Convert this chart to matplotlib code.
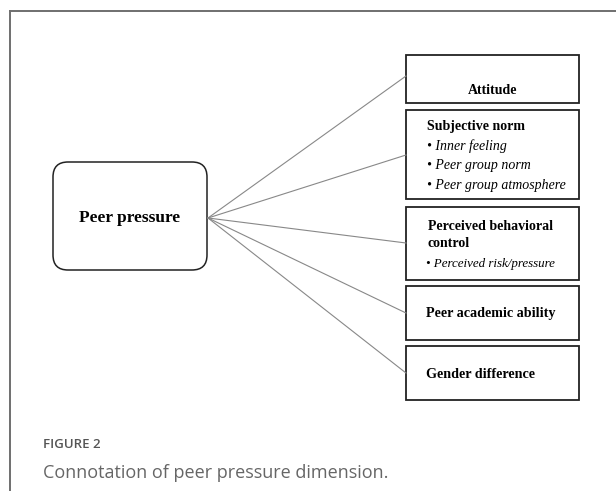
import matplotlib
matplotlib.use("Agg")
from matplotlib import pyplot as plt
from matplotlib.patches import FancyBboxPatch, Rectangle

# diagram content
center_label = "Peer pressure"
dim_titles = ["Attitude", "Subjective norm", "Perceived behavioral\ncontrol",
              "Peer academic ability", "Gender difference"]
dim_items = [[], ["Inner feeling", "Peer group norm", "Peer group atmosphere"],
             ["Perceived risk/pressure"], [], []]
caption_head = "FIGURE 2"
caption_text = "Connotation of peer pressure dimension."

# layout in pixels (top-left origin)
box_top = [55, 110, 207, 286, 346]
box_bot = [103, 199, 280, 340, 400]
line_end_y = [76, 155, 243, 313, 373]
box_x0, box_x1 = 406, 579
hub = (208, 218)

fig = plt.figure(figsize=(6.16, 4.91), dpi=100)
ax = fig.add_axes([0, 0, 1, 1])
ax.set_xlim(0, 616)
ax.set_ylim(491, 0)
ax.axis("off")

# outer frame (left + top only)
ax.plot([9.5, 9.5], [491, 10.5], color="#6f6f6f", lw=1.4)
ax.plot([9.5, 616], [10.5, 10.5], color="#6f6f6f", lw=1.4)

serif = ["Liberation Serif", "DejaVu Serif"]

# centre box
cb = FancyBboxPatch((53 + 15, 162 + 15), 154 - 30, 108 - 30,
                    boxstyle="round,pad=15", fc="white", ec="#222222", lw=1.1)
ax.add_patch(cb)
ax.text(130, 218, center_label, ha="center", va="center", fontsize=12.5,
        fontweight="bold", family=serif)

for i, title in enumerate(dim_titles):
    ax.plot([hub[0], box_x0], [hub[1], line_end_y[i]], color="#888888", lw=0.8)
    ax.add_patch(Rectangle((box_x0, box_top[i]), box_x1 - box_x0,
                           box_bot[i] - box_top[i], fc="white",
                           ec="#222222", lw=1.3))

ax.text((box_x0 + box_x1) / 2, 90, dim_titles[0], ha="center", va="center",
        fontsize=10, fontweight="bold", family=serif)

ax.text(427, 126, dim_titles[1], ha="left", va="center", fontsize=10,
        fontweight="bold", family=serif)
for k, item in enumerate(dim_items[1]):
    ax.text(427, 146 + 20 * k, "\u2022 " + item, ha="left", va="center",
            fontsize=10, style="italic", family=serif)

ax.text(428, 235, dim_titles[2], ha="left", va="center", fontsize=10,
        fontweight="bold", family=serif, linespacing=1.45)
ax.text(426, 264, "\u2022 " + dim_items[2][0], ha="left", va="center",
        fontsize=9.4, style="italic", family=serif)

ax.text(426, 314, dim_titles[3], ha="left", va="center", fontsize=10.2,
        fontweight="bold", family=serif)
ax.text(426, 374, dim_titles[4], ha="left", va="center", fontsize=10.2,
        fontweight="bold", family=serif)

# caption
ax.text(43, 445, caption_head, ha="left", va="center", fontsize=9.5,
        color="#555555", family="Open Sans", fontweight="semibold")
ax.text(43, 473, caption_text, ha="left", va="center", fontsize=13,
        color="#666666", family="Open Sans")

fig.savefig("out.png", dpi=100)
